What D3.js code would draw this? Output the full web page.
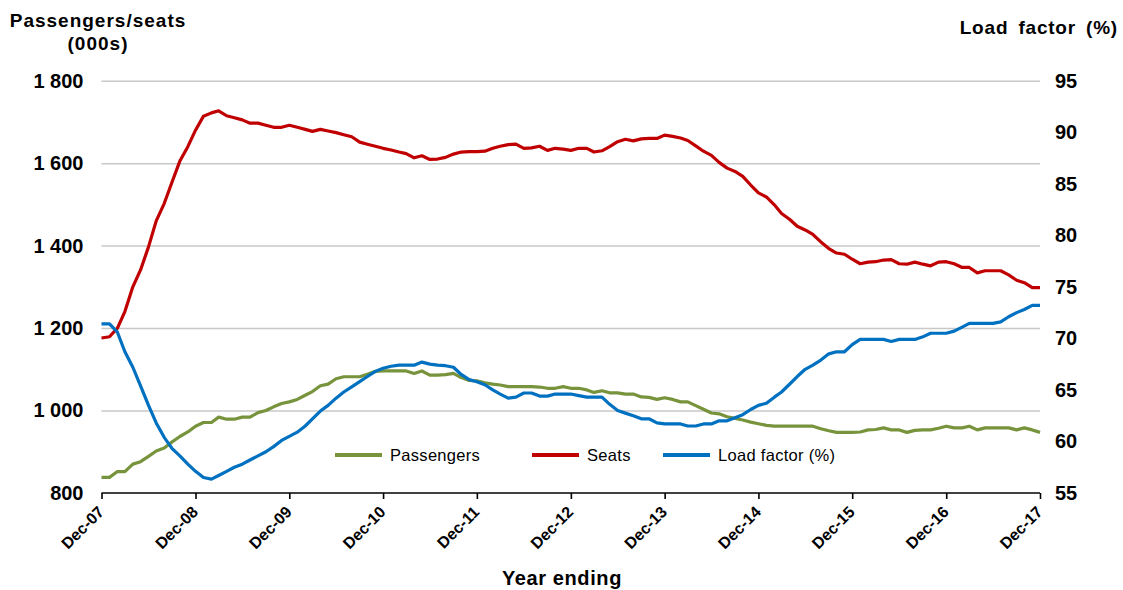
<!DOCTYPE html>
<html>
<head>
<meta charset="utf-8">
<script src="https://cdn.jsdelivr.net/npm/d3@7"></script>
<style>
  html, body { margin: 0; padding: 0; background: #fff; }
  svg { display: block; font-family: "Liberation Sans", Arial, sans-serif; }
</style>
</head>
<body>
<svg id="chart" width="1123" height="590"></svg>
<script>
// ---- Data (monthly, year ending Dec-07 .. Dec-17) ----
const startMonth = "2007-12";
const tickLabels = ["Dec-07","Dec-08","Dec-09","Dec-10","Dec-11","Dec-12","Dec-13","Dec-14","Dec-15","Dec-16","Dec-17"];
const seriesNames = ["Passengers", "Seats", "Load factor (%)"];

const passengers = [
  838,838,852,852,870,876,889,902,909,924,937,948,
  962,971,971,984,979,979,984,984,995,1000,1009,1017,
  1021,1027,1037,1046,1060,1064,1077,1082,1082,1082,1088,1095,
  1096,1096,1096,1096,1090,1096,1086,1086,1087,1090,1080,1073,
  1072,1067,1064,1062,1058,1058,1058,1058,1057,1054,1054,1058,
  1054,1054,1050,1044,1048,1043,1043,1040,1040,1033,1032,1027,
  1031,1027,1021,1021,1012,1003,994,992,985,981,977,972,
  968,964,962,962,962,962,962,962,956,951,947,947,
  947,948,953,954,958,953,953,947,952,953,953,957,
  962,958,958,962,953,958,958,958,958,953,958,953,947
];
const seats = [
  1176,1179,1200,1240,1300,1341,1397,1460,1502,1555,1605,1640,
  1680,1714,1722,1727,1715,1710,1705,1697,1697,1692,1687,1687,
  1692,1687,1682,1677,1682,1678,1674,1669,1664,1651,1646,1641,
  1636,1632,1627,1623,1613,1618,1609,1610,1614,1622,1627,1628,
  1628,1629,1636,1641,1645,1646,1636,1637,1641,1631,1636,1634,
  1631,1636,1636,1627,1630,1640,1652,1658,1654,1659,1660,1660,
  1668,1665,1661,1655,1642,1629,1619,1602,1588,1580,1568,1547,
  1528,1518,1499,1478,1464,1447,1438,1427,1409,1393,1382,1379,
  1367,1356,1360,1361,1365,1366,1356,1355,1360,1355,1351,1360,
  1361,1356,1347,1347,1334,1339,1339,1339,1329,1316,1310,1298,1298
];
const loadFactor = [
  71.4,71.4,70.6,68.7,67.2,65.4,63.5,61.8,60.4,59.3,58.6,57.8,
  57.1,56.5,56.35,56.7,57.1,57.5,57.8,58.2,58.6,59.0,59.5,60.1,
  60.5,60.9,61.5,62.2,62.95,63.5,64.2,64.8,65.3,65.8,66.3,66.8,
  67.1,67.3,67.4,67.4,67.4,67.7,67.5,67.4,67.35,67.2,66.5,66.0,
  65.8,65.5,65.0,64.6,64.2,64.3,64.7,64.7,64.4,64.4,64.6,64.6,
  64.6,64.45,64.3,64.3,64.3,63.6,63.0,62.75,62.5,62.2,62.2,61.8,
  61.7,61.7,61.7,61.5,61.5,61.7,61.7,62.0,62.0,62.3,62.6,63.1,
  63.5,63.7,64.3,64.8,65.55,66.3,67.0,67.4,67.9,68.5,68.7,68.7,
  69.4,69.9,69.9,69.9,69.9,69.7,69.9,69.9,69.9,70.15,70.5,70.5,
  70.5,70.7,71.1,71.45,71.45,71.45,71.45,71.6,72.1,72.5,72.8,73.2,73.2
];
const leftTicks = [800, 1000, 1200, 1400, 1600, 1800];
const rightTicks = [55, 60, 65, 70, 75, 80, 85, 90, 95];

// ---- Layout ----
const W = 1123, H = 590;
const M = { left: 101.5, right: 83, top: 80.7, bottom: 97 };
const svg = d3.select("#chart");

const parseM = d3.timeParse("%Y-%m");
const t0 = parseM(startMonth);
const dates = passengers.map((_, i) => d3.timeMonth.offset(t0, i));
const tickDates = tickLabels.map((_, i) => d3.timeMonth.offset(t0, i * 12));

const x = d3.scaleTime().domain([dates[0], dates[dates.length - 1]]).range([M.left, W - M.right]);
const yL = d3.scaleLinear().domain([800, 1800]).range([H - M.bottom, M.top]);
const yR = d3.scaleLinear().domain([55, 95]).range([H - M.bottom, M.top]);

const fmt = d3.formatLocale({ decimal: ".", thousands: " ", grouping: [3], currency: ["", ""] }).format(",");
const FONT = "Liberation Sans, Arial, sans-serif";

// gridlines
svg.append("g")
  .attr("transform", `translate(${M.left},0)`)
  .call(d3.axisLeft(yL).tickValues(leftTicks.slice(1)).tickSize(-(W - M.left - M.right)).tickFormat(""))
  .call(g => g.select(".domain").remove())
  .call(g => g.selectAll("line").attr("stroke", "#c8c8c8").attr("stroke-width", 1.5));

// left axis labels
svg.append("g")
  .attr("transform", `translate(${M.left},0)`)
  .call(d3.axisLeft(yL).tickValues(leftTicks).tickSize(0).tickPadding(18).tickFormat(fmt))
  .call(g => g.select(".domain").remove())
  .call(g => g.selectAll("text").attr("font-size", 20).attr("font-weight", "bold")
    .attr("fill", "#000").attr("font-family", FONT));

// right axis labels
svg.append("g")
  .attr("transform", `translate(${W - M.right},0)`)
  .call(d3.axisRight(yR).tickValues(rightTicks).tickSize(0).tickPadding(15))
  .call(g => g.select(".domain").remove())
  .call(g => g.selectAll("text").attr("font-size", 20).attr("font-weight", "bold")
    .attr("fill", "#000").attr("font-family", FONT));

// x axis
const xAxis = svg.append("g")
  .attr("transform", `translate(0,${H - M.bottom})`)
  .call(d3.axisBottom(x).tickValues(tickDates).tickSize(6).tickFormat((d, i) => tickLabels[i]));
xAxis.select(".domain").attr("stroke", "#000").attr("stroke-width", 1.6).attr("d", `M${M.left},0H${W - M.right}`);
xAxis.selectAll(".tick line").attr("stroke", "#000").attr("stroke-width", 1.6);
xAxis.selectAll(".tick text")
  .attr("font-size", 16).attr("font-weight", "bold").attr("fill", "#000")
  .attr("font-family", FONT)
  .attr("text-anchor", "end")
  .attr("dy", null).attr("y", 0)
  .attr("transform", "translate(3,20) rotate(-45)");

// lines
const lineL = d3.line().x((d, i) => x(dates[i])).y(d => yL(d));
const lineR = d3.line().x((d, i) => x(dates[i])).y(d => yR(d));
const colors = ["#77933C", "#C00000", "#0070C0"];

svg.append("path").datum(passengers).attr("d", lineL)
  .attr("fill", "none").attr("stroke", colors[0]).attr("stroke-width", 3.2).attr("stroke-linejoin", "round");
svg.append("path").datum(seats).attr("d", lineL)
  .attr("fill", "none").attr("stroke", colors[1]).attr("stroke-width", 3.2).attr("stroke-linejoin", "round");
svg.append("path").datum(loadFactor).attr("d", lineR)
  .attr("fill", "none").attr("stroke", colors[2]).attr("stroke-width", 3.2).attr("stroke-linejoin", "round");

// legend
const legendItems = [
  { name: seriesNames[0], color: colors[0], x: 335 },
  { name: seriesNames[1], color: colors[1], x: 532 },
  { name: seriesNames[2], color: colors[2], x: 663 }
];
const lg = svg.append("g").attr("transform", "translate(0,455)");
legendItems.forEach(it => {
  lg.append("line").attr("x1", it.x).attr("x2", it.x + 47).attr("y1", 0).attr("y2", 0)
    .attr("stroke", it.color).attr("stroke-width", 4);
  lg.append("text").attr("x", it.x + 55).attr("y", 0).attr("dy", "0.36em")
    .attr("font-size", 16.5).attr("letter-spacing", 0.3).attr("fill", "#000").text(it.name);
});

// titles
const tl = svg.append("text").attr("font-size", 19).attr("font-weight", "bold").attr("fill", "#000")
  .attr("text-anchor", "middle").attr("letter-spacing", 1);
tl.append("tspan").attr("x", 98).attr("y", 27).text("Passengers/seats");
tl.append("tspan").attr("x", 98).attr("y", 50).text("(000s)");

svg.append("text").attr("x", 1118).attr("y", 34).attr("text-anchor", "end")
  .attr("font-size", 19).attr("font-weight", "bold").attr("letter-spacing", 0.8).attr("word-spacing", 4)
  .attr("fill", "#000").text("Load factor (%)");

svg.append("text").attr("x", 562).attr("y", 585).attr("text-anchor", "middle")
  .attr("font-size", 20).attr("font-weight", "bold").attr("letter-spacing", 0.6)
  .attr("fill", "#000").text("Year ending");
</script>
</body>
</html>
